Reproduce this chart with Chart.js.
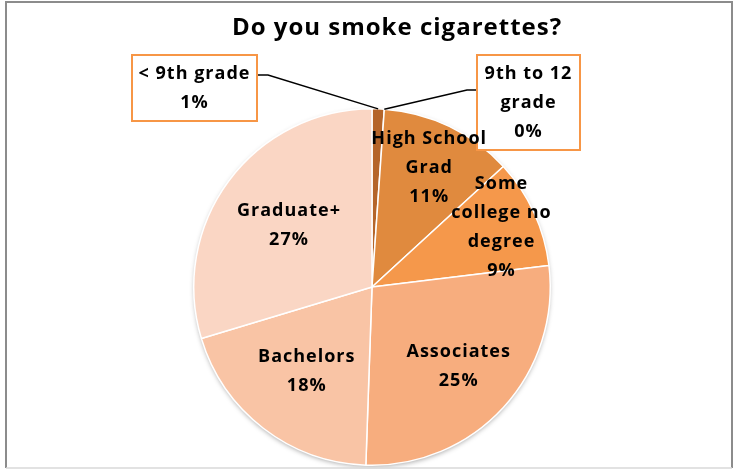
<!DOCTYPE html>
<html>
<head>
<meta charset="utf-8">
<title>Do you smoke cigarettes?</title>
<script src="https://cdn.jsdelivr.net/npm/chart.js@4.4.0/dist/chart.umd.min.js"></script>
<style>
  html, body { margin: 0; padding: 0; background: #fff; }
  #wrap { position: relative; width: 735px; height: 469px; }
</style>
</head>
<body>
<div id="wrap"><canvas id="smokeChart" width="735" height="469"></canvas></div>
<script>
// education level of respondents, share in percent
var categories = ["< 9th grade", "9th to 12 grade", "High School Grad", "Some college no degree", "Associates", "Bachelors", "Graduate+"];
var shares = [1, 0, 11, 9, 25, 18, 27];
var sliceColors = ["#B5652A", "#8E4E1F", "#E08A3E", "#F5984B", "#F7AD7E", "#F9C4A5", "#FAD6C4"];

var labelFont = "bold 18px 'Open Sans'";
var lineHeight = 29;
// max text width before wrapping, per slice
var wrapWidth = [125, 100, 130, 118, 200, 200, 200];
// how far out along the slice the label sits (fraction of radius)
var labelRadius = [0, 0, 0.74, 0.8, 0.66, 0.6, 0.58];

function wrapText(ctx, text, maxW) {
  var words = text.split(" ");
  var lines = [];
  var cur = "";
  words.forEach(function (w) {
    var test = cur ? cur + " " + w : w;
    if (cur && ctx.measureText(test).width > maxW) {
      lines.push(cur);
      cur = w;
    } else {
      cur = test;
    }
  });
  if (cur) lines.push(cur);
  return lines;
}

function drawLines(ctx, lines, cx, cy) {
  var top = cy - (lines.length - 1) * lineHeight / 2;
  lines.forEach(function (l, k) {
    ctx.fillText(l, cx, top + k * lineHeight);
  });
}

// soft drop shadow under the whole pie
var pieShadow = {
  id: "pieShadow",
  beforeDatasetsDraw: function (chart) {
    var arc = chart.getDatasetMeta(0).data[0];
    if (!arc) return;
    var p = arc.getProps(["x", "y", "outerRadius"], true);
    var ctx = chart.ctx;
    ctx.save();
    ctx.shadowColor = "rgba(0,0,0,0.35)";
    ctx.shadowBlur = 5;
    ctx.shadowOffsetY = 2;
    ctx.fillStyle = "#fff";
    ctx.beginPath();
    ctx.arc(p.x, p.y, p.outerRadius - 0.5, 0, Math.PI * 2);
    ctx.fill();
    ctx.restore();
  }
};

// slice labels, callout boxes for the tiny slices, title and frame
var pieLabels = {
  id: "pieLabels",
  afterDatasetsDraw: function (chart) {
    var ctx = chart.ctx;
    var meta = chart.getDatasetMeta(0);
    ctx.save();
    ctx.font = labelFont;
    ctx.letterSpacing = "1px";
    ctx.fillStyle = "#000";
    ctx.textAlign = "center";
    ctx.textBaseline = "middle";

    meta.data.forEach(function (arc, i) {
      var p = arc.getProps(["x", "y", "startAngle", "endAngle", "outerRadius"], true);
      var mid = (p.startAngle + p.endAngle) / 2;
      var lines = wrapText(ctx, categories[i], wrapWidth[i]);
      lines.push(shares[i] + "%");

      if (labelRadius[i] > 0) {
        var r = p.outerRadius * labelRadius[i];
        drawLines(ctx, lines, p.x + Math.cos(mid) * r, p.y + Math.sin(mid) * r);
        return;
      }

      // callout: box on the left for the first slice, on the right for the second
      var edgeX = p.x + Math.cos(mid) * p.outerRadius;
      var edgeY = p.y + Math.sin(mid) * p.outerRadius;
      var left = i === 0;
      var boxW = left ? 125 : 103;
      var boxH = lines.length * lineHeight + 8;
      var boxX = left ? 132 : 477;
      var boxY = 55;
      var anchorY = left ? 75 : 90;
      var elbowX = left ? boxX + boxW + 11 : boxX - 10;

      ctx.strokeStyle = "#000";
      ctx.lineWidth = 1.5;
      ctx.beginPath();
      ctx.moveTo(left ? boxX + boxW : boxX, anchorY);
      ctx.lineTo(elbowX, anchorY);
      ctx.lineTo(edgeX, edgeY);
      ctx.stroke();

      ctx.fillStyle = "#fff";
      ctx.fillRect(boxX, boxY, boxW, boxH);
      ctx.strokeStyle = "#F79646";
      ctx.lineWidth = 2;
      ctx.strokeRect(boxX, boxY, boxW, boxH);
      ctx.fillStyle = "#000";
      drawLines(ctx, lines, boxX + boxW / 2, boxY + boxH / 2);
    });

    // title
    ctx.font = "bold 24px 'Open Sans'";
    ctx.letterSpacing = "1px";
    ctx.fillText("Do you smoke cigarettes?", 397, 28);

    // chart frame
    ctx.letterSpacing = "0px";
    ctx.strokeStyle = "#8c8c8c";
    ctx.lineWidth = 2;
    ctx.beginPath();
    ctx.moveTo(6, 468);
    ctx.lineTo(6, 2);
    ctx.lineTo(732, 2);
    ctx.lineTo(732, 468);
    ctx.stroke();
    ctx.strokeStyle = "#d9d9d9";
    ctx.lineWidth = 1.5;
    ctx.beginPath();
    ctx.moveTo(6, 468);
    ctx.lineTo(732, 468);
    ctx.stroke();
    ctx.restore();
  }
};

new Chart("smokeChart", {
  type: "pie",
  data: {
    labels: categories,
    datasets: [{
      data: shares,
      backgroundColor: sliceColors,
      borderColor: "#ffffff",
      borderWidth: 1.5
    }]
  },
  options: {
    responsive: false,
    animation: false,
    layout: {
      padding: { top: 108, bottom: 3, left: 100, right: 91 }
    },
    plugins: {
      legend: { display: false },
      title: { display: false },
      tooltip: { enabled: false }
    }
  },
  plugins: [pieShadow, pieLabels]
});
</script>
</body>
</html>
